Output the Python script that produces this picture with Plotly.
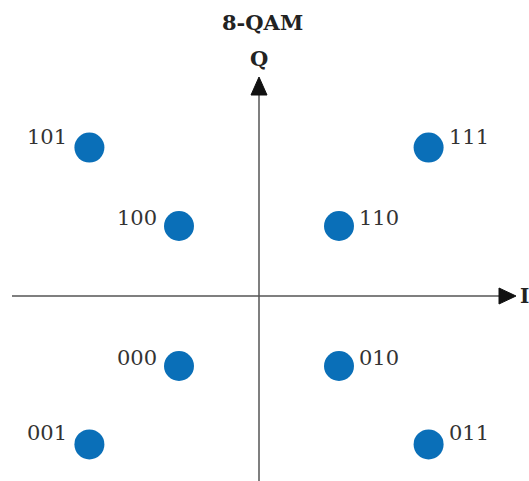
import plotly.graph_objects as go

# Constellation data (I, Q) and bit labels
labels = ["101", "111", "100", "110", "000", "010", "001", "011"]
i_vals = [-2.12, 2.12, -1.0, 1.0, -1.0, 1.0, -2.12, 2.12]
q_vals = [2.12, 2.12, 1.0, 1.0, -1.0, -1.0, -2.12, -2.12]

W, H = 529, 481
OX, OY = 259.0, 296.0   # pixel position of origin
SX, SY = 80.0, 70.0     # pixels per unit

def px(xp):
    return (xp - OX) / SX

def py(yp):
    return (OY - yp) / SY

fig = go.Figure()
fig.add_trace(go.Scatter(
    x=i_vals, y=q_vals, mode="markers",
    marker=dict(size=30, color="#0a6fb8", line=dict(width=0)),
    hoverinfo="skip", showlegend=False,
))

shapes = [
    # horizontal axis
    dict(type="line", x0=px(12), x1=px(500), y0=0, y1=0, xref="x", yref="y",
         line=dict(color="#555555", width=1.5)),
    # vertical axis
    dict(type="line", x0=0, x1=0, y0=py(485), y1=py(94), xref="x", yref="y",
         line=dict(color="#555555", width=1.5)),
    # arrow heads
    dict(type="path", xref="x", yref="y",
         path=f"M {px(499)} {py(288)} L {px(516)} 0 L {px(499)} {py(304)} Z",
         fillcolor="#111111", line=dict(color="#111111", width=1)),
    dict(type="path", xref="x", yref="y",
         path=f"M {px(OX-8)} {py(95)} L 0 {py(77)} L {px(OX+8)} {py(95)} Z",
         fillcolor="#111111", line=dict(color="#111111", width=1)),
]

annotations = []
for lab, xi, qi in zip(labels, i_vals, q_vals):
    right = xi > 0
    annotations.append(dict(
        x=xi, y=qi, xref="x", yref="y", text=lab, showarrow=False,
        xanchor="left" if right else "right", yanchor="middle",
        xshift=18 if right else -20, yshift=11 if abs(qi) > 1.5 else 8,
        font=dict(family="DejaVu Serif", size=21, color="#333333"),
    ))

annotations += [
    dict(x=px(262), y=py(22), xref="x", yref="y", text="<b>8-QAM</b>", showarrow=False,
         xanchor="center", yanchor="middle",
         font=dict(family="DejaVu Serif", size=21, color="#222222")),
    dict(x=0, y=py(58), xref="x", yref="y", text="<b>Q</b>", showarrow=False,
         xanchor="center", yanchor="middle",
         font=dict(family="DejaVu Serif", size=21, color="#222222")),
    dict(x=519 / W, y=(H - OY) / H, xref="paper", yref="paper",
         text="<b>I</b>", showarrow=False, xanchor="left", yanchor="middle",
         borderpad=0,
         font=dict(family="DejaVu Serif", size=20, color="#222222")),
]

fig.update_layout(
    width=W, height=H,
    margin=dict(l=0, r=0, t=0, b=0),
    paper_bgcolor="white", plot_bgcolor="white",
    hovermode=False,
    xaxis=dict(range=[px(0), px(W)], visible=False, fixedrange=True),
    yaxis=dict(range=[py(H), py(0)], visible=False, fixedrange=True),
    shapes=shapes, annotations=annotations,
)

fig.write_html(
    "out.html",
    config={"displayModeBar": False, "staticPlot": True},
    post_script="document.body.style.margin='0';document.documentElement.style.overflow='hidden';",
)
